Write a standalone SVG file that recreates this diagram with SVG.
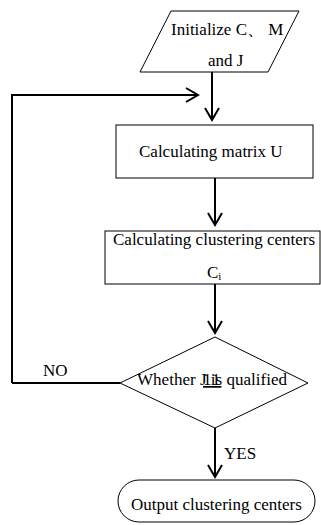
<svg xmlns="http://www.w3.org/2000/svg" width="321" height="525" viewBox="0 0 321 525">
<style>
text{font-size:17px;fill:#000}
.shape{fill:#fff;stroke:#000;stroke-width:1}
.conn{fill:none;stroke:#000;stroke-width:2}
.head{fill:none;stroke:#000;stroke-width:2}
</style>
<rect width="321" height="525" fill="#fff"/>
<g font-family="Liberation Serif, Times New Roman, serif">
<g id="connectors">
<path class="conn" d="M212,72 V120"/>
<path class="head" d="M205,108 L212,120 L219,108"/>
<path class="conn" d="M12,383 V95 H198"/>
<path class="head" d="M186,88 L198,95 L186,102"/>
<path class="conn" d="M215,178 V225"/>
<path class="head" d="M208,213 L215,225 L222,213"/>
<path class="conn" d="M215,284 V333"/>
<path class="head" d="M208,321 L215,333 L222,321"/>
<path class="conn" d="M120,383 H12"/>
<path class="conn" d="M215,428 V477"/>
<path class="head" d="M208,465 L215,477 L222,465"/>
<text x="43" y="376">NO</text>
<text x="224" y="459">YES</text>
</g>
<g id="init">
<polygon class="shape" points="171,11 299,11 268,72 140,72"/>
<text x="171" y="35">Initialize C、 M</text>
<text x="208" y="66">and J</text>
</g>
<g id="matrix">
<rect class="shape" x="116" y="125" width="197" height="53"/>
<text x="139" y="157">Calculating matrix U</text>
</g>
<g id="centers">
<rect class="shape" x="105" y="231" width="215" height="53"/>
<text x="113" y="245">Calculating clustering centers</text>
<text x="207" y="278">C<tspan font-size="11" dy="2">i</tspan></text>
</g>
<g id="decision">
<polygon class="shape" points="215,337 308,383 215,428 120,383"/>
<text x="137" y="385" textLength="150" lengthAdjust="spacingAndGlyphs">Whether J is qualified</text>
<text x="203" y="385" font-size="15" text-decoration="underline" letter-spacing="1">11</text>
</g>
<g id="output">
<rect class="shape" x="118" y="480" width="197" height="42" rx="21" ry="21"/>
<text x="131" y="510">Output clustering centers</text>
</g>
</g>
</svg>
